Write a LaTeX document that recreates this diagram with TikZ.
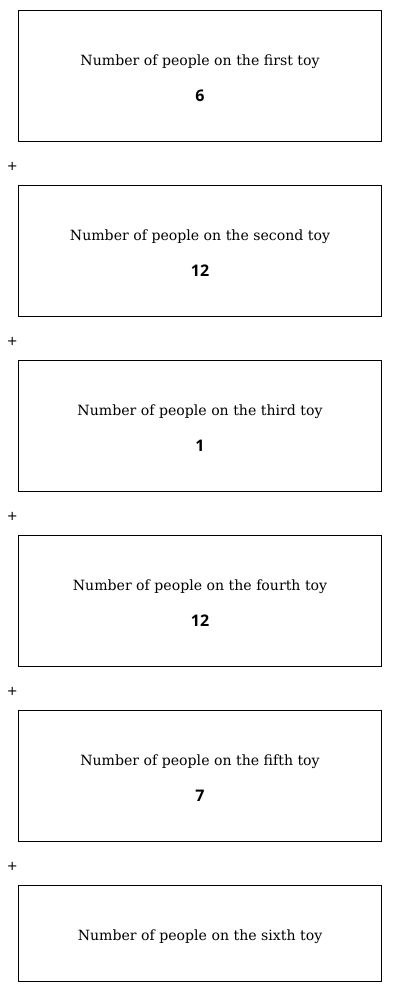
\documentclass[tikz,border=0pt]{standalone}
\usepackage{fontspec}
\newfontfamily\numfont{Open Sans}
\newfontfamily\plusfont{DejaVu Sans}
\newfontfamily\titlefont{DejaVu Serif}
\tikzset{
  toybox/.style={draw=black, line width=0.9pt, minimum width=363pt, minimum height=131pt, inner sep=0pt, anchor=north west},
  lastbox/.style={toybox, minimum height=96pt},
  toytitle/.style={font=\titlefont\fontsize{14.1}{17}\selectfont, inner sep=0pt},
  toynum/.style={font=\numfont\bfseries\fontsize{16}{18}\selectfont, inner sep=0pt},
  plussign/.style={font=\plusfont\fontsize{13}{16}\selectfont, inner sep=0pt}
}
\begin{document}
\begin{tikzpicture}[x=1pt,y=-1pt]
\useasboundingbox (0,0) rectangle (400,992);
\node[toybox] (b1) at (18,10) {};
\node[toybox] (b2) at (18,185) {};
\node[toybox] (b3) at (18,360) {};
\node[toybox] (b4) at (18,535) {};
\node[toybox] (b5) at (18,710) {};
\node[lastbox] (b6) at (18,885) {};
\node[toytitle] (t1) at (200,61.5) {Number of people on the first toy};
\node[toynum] (n1) at (200,96) {6};
\node[toytitle] (t2) at (200,236.5) {Number of people on the second toy};
\node[toynum] (n2) at (200,271) {12};
\node[toytitle] (t3) at (200,411.5) {Number of people on the third toy};
\node[toynum] (n3) at (200,446) {1};
\node[toytitle] (t4) at (200,586.5) {Number of people on the fourth toy};
\node[toynum] (n4) at (200,621) {12};
\node[toytitle] (t5) at (200,761.5) {Number of people on the fifth toy};
\node[toynum] (n5) at (200,796) {7};
\node[toytitle] (t6) at (200,936.5) {Number of people on the sixth toy};
\node[plussign] (p1) at (12.3,166) {+};
\node[plussign] (p2) at (12.3,341) {+};
\node[plussign] (p3) at (12.3,516) {+};
\node[plussign] (p4) at (12.3,691) {+};
\node[plussign] (p5) at (12.3,866) {+};
\end{tikzpicture}
\end{document}
